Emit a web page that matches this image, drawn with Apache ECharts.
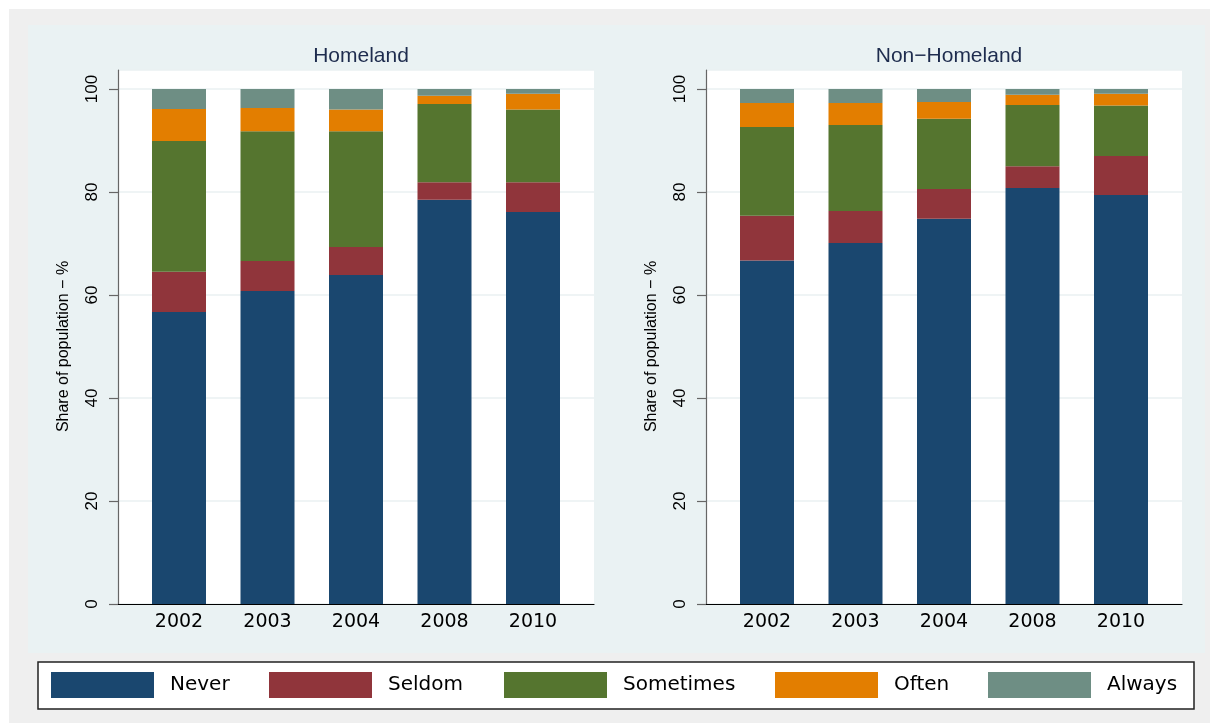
<!DOCTYPE html>
<html lang="en">
<head>
    <meta charset="UTF-8">
    <title>Share of population</title>
    <script type="text/javascript" src="https://cdn.jsdelivr.net/npm/echarts@6/dist/echarts.min.js"></script>
    <style>
        body { margin: 0; background: #fff; }
    </style>
</head>
<body>
<div id="chart" style="width:1210px; height:723px;"></div>
<script>
    // data (percent of population)
    var years = ['2002', '2003', '2004', '2008', '2010'];
    var categories = ['Never', 'Seldom', 'Sometimes', 'Often', 'Always'];
    var panelTitles = ['Homeland', 'Non\u2212Homeland'];
    var yTicks = [0, 20, 40, 60, 80, 100];

    var homeNever = [56.7, 60.8, 63.9, 78.5, 76.1];
    var homeSeldom = [7.8, 5.8, 5.4, 3.4, 5.8];
    var homeSometimes = [25.4, 25.2, 22.5, 15.2, 14.1];
    var homeOften = [6.2, 4.5, 4.2, 1.6, 3.1];
    var homeAlways = [3.9, 3.7, 4.0, 1.3, 0.9];

    var nonNever = [66.7, 70.1, 74.8, 80.8, 79.4];
    var nonSeldom = [8.7, 6.2, 5.8, 4.2, 7.6];
    var nonSometimes = [17.2, 16.7, 13.6, 11.9, 9.8];
    var nonOften = [4.7, 4.3, 3.3, 2.0, 2.3];
    var nonAlways = [2.7, 2.7, 2.5, 1.1, 0.9];

    var colors = ['#1a476f', '#90353b', '#55752f', '#e37e00', '#6e8e84'];

    var chart = echarts.init(document.getElementById('chart'));

    var panelLeft = [118, 706];
    var plotW = 476;
    var inset = 16.75;

    var grids = [], xAxes = [], yAxes = [];
    for (var p = 0; p < 2; p++) {
        // white plot region with axis lines and grid lines
        grids.push({left: panelLeft[p], top: 70, width: plotW, height: 534,
            show: true, backgroundColor: '#fff', borderWidth: 0});
        xAxes.push({gridIndex: p * 2, type: 'value', min: 0, max: 1,
            axisLine: {show: true, lineStyle: {color: '#000', width: 1.2}},
            axisTick: {show: false}, axisLabel: {show: false}, splitLine: {show: false}});
        yAxes.push({gridIndex: p * 2, type: 'value', min: 0, max: 103.7, interval: 20,
            axisLine: {show: true, lineStyle: {color: '#666', width: 1.2}},
            axisTick: {show: false}, axisLabel: {show: false},
            splitLine: {show: true, lineStyle: {color: '#eaf0f2', width: 1.5}}});
        // bars grid
        grids.push({left: panelLeft[p] + inset, top: 89, width: plotW - 2 * inset, height: 515});
        xAxes.push({gridIndex: p * 2 + 1, type: 'category', data: years,
            axisLine: {show: false}, axisTick: {show: false},
            axisLabel: {margin: 9, color: '#000', fontFamily: 'DejaVu Sans', fontSize: 19}});
        yAxes.push({gridIndex: p * 2 + 1, type: 'value', min: yTicks[0], max: yTicks[yTicks.length - 1], interval: 20,
            offset: inset,
            name: 'Share of population \u2212 %', nameLocation: 'middle', nameGap: 46,
            nameTextStyle: {color: '#000', fontFamily: 'Liberation Sans', fontSize: 16},
            axisLine: {show: false},
            axisTick: {show: true, length: 9, lineStyle: {color: '#666', width: 1.2}},
            axisLabel: {rotate: 90, margin: 17, color: '#000', fontFamily: 'Liberation Sans', fontSize: 17},
            splitLine: {show: false}});
    }

    var homeData = [homeNever, homeSeldom, homeSometimes, homeOften, homeAlways];
    var nonData = [nonNever, nonSeldom, nonSometimes, nonOften, nonAlways];
    var series = [];
    [homeData, nonData].forEach(function (set, p) {
        set.forEach(function (vals, i) {
            series.push({
                name: categories[i], type: 'bar', stack: 'panel' + p,
                xAxisIndex: p * 2 + 1, yAxisIndex: p * 2 + 1,
                barWidth: 54, data: vals,
                itemStyle: {color: colors[i]},
                emphasis: {disabled: true}
            });
        });
    });

    var legendX = [51, 269, 504, 775, 988];
    var legends = categories.map(function (c, i) {
        return {
            data: [c], left: legendX[i], top: 672, orient: 'horizontal', padding: 0,
            itemWidth: 103, itemHeight: 26, icon: 'rect', selectedMode: false,
            textStyle: {color: '#000', fontFamily: 'DejaVu Sans', fontSize: 20, padding: [0, 0, 0, 11]}
        };
    });

    var option = {
        animation: false,
        color: colors,
        graphic: [
            {type: 'rect', z: -10, shape: {x: 9, y: 9, width: 1201, height: 714}, style: {fill: '#efefef'}},
            {type: 'rect', z: -9, shape: {x: 28, y: 25, width: 1177, height: 628}, style: {fill: '#eaf2f3'}},
            {type: 'rect', z: -8, shape: {x: 38, y: 662, width: 1156, height: 47},
                style: {fill: '#fff', stroke: '#222', lineWidth: 1.5}}
        ],
        title: panelTitles.map(function (t, p) {
            return {text: t, left: panelLeft[p] + plotW / 2, top: 41, textAlign: 'center',
                textStyle: {color: '#1e2c4e', fontFamily: 'Liberation Sans', fontSize: 21, fontWeight: 'normal'}};
        }),
        legend: legends,
        grid: grids,
        xAxis: xAxes,
        yAxis: yAxes,
        series: series
    };
    chart.setOption(option);
</script>
</body>
</html>
